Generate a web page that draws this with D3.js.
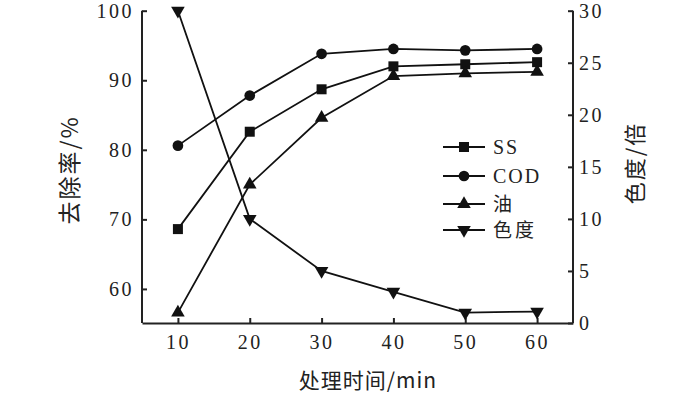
<!DOCTYPE html>
<meta charset="utf-8">
<style>
body { margin: 0; background: #fff; }
text { fill: #222; }
.axis path, .axis line { stroke: #222; stroke-width: 2; }
</style>
<body>
<script src="https://d3js.org/d3.v7.min.js"></script>
<script>

// data
var times = [10, 20, 30, 40, 50, 60];
var ssRate = [68.6, 82.6, 88.7, 92.0, 92.3, 92.6];
var codRate = [80.6, 87.8, 93.8, 94.5, 94.3, 94.5];
var oilRate = [56.6, 75.0, 84.6, 90.6, 91.0, 91.2];
var colorTimes = [30, 10, 5, 3, 1, 1.1];
var xTicks = [10, 20, 30, 40, 50, 60];
var leftTicks = [60, 70, 80, 90, 100];
var rightTicks = [0, 5, 10, 15, 20, 25, 30];
var legendNames = ["SS", "COD", "油", "色度"];

var svg = d3.select("body").append("svg")
    .attr("width", 700)
    .attr("height", 395);

// plot box (note: "top" is taken by window.top)
var pLeft = 142, pRight = 573, pTop = 10.7, pBottom = 323;

var x = d3.scaleLinear().domain([5, 65]).range([pLeft, pRight]);
var yL = d3.scaleLinear().domain([55.1, 100]).range([pBottom, pTop]);
var yR = d3.scaleLinear().domain([0, 30]).range([pBottom, pTop]);

// axes
var gx = svg.append("g").attr("class", "axis")
    .attr("transform", "translate(0," + pBottom + ")")
    .call(d3.axisTop(x).tickValues(xTicks).tickSize(5).tickSizeOuter(0).tickFormat(d3.format("d")));
gx.selectAll("text").attr("y", 12).attr("dy", "0.71em");

var gl = svg.append("g").attr("class", "axis")
    .attr("transform", "translate(" + pLeft + ",0)")
    .call(d3.axisRight(yL).tickValues(leftTicks).tickSize(5).tickSizeOuter(0));
gl.selectAll("text").attr("x", -8).attr("text-anchor", "end");
gl.select(".domain").attr("d", "M0," + pTop + "V" + pBottom);

var gr = svg.append("g").attr("class", "axis")
    .attr("transform", "translate(" + pRight + ",0)")
    .call(d3.axisLeft(yR).tickValues(rightTicks).tickSize(5).tickSizeOuter(0));
gr.selectAll("text").attr("x", 6).attr("text-anchor", "start");
gr.select(".domain").attr("d", "M0," + pTop + "V" + pBottom);

svg.selectAll(".axis").attr("font-family", null).attr("font-size", null);
svg.selectAll(".axis text").style("font-family", "'Liberation Serif', serif")
   .style("font-size", "20px").style("letter-spacing", "2.5px").attr("fill", "#222");
svg.selectAll(".axis .domain").attr("fill", "none");

// axis titles
svg.append("text").attr("x", 368).attr("y", 388)
   .attr("text-anchor", "middle")
   .style("font-family", "'Noto Sans CJK SC', sans-serif").style("font-size", "21px")
   .style("letter-spacing", "1px")
   .text("处理时间/min");

svg.append("text").attr("transform", "translate(78,170) rotate(-90)")
   .attr("text-anchor", "middle")
   .style("font-family", "'Noto Sans CJK SC', sans-serif").style("font-size", "23px")
   .style("letter-spacing", "2px")
   .text("去除率/%");

svg.append("text").attr("transform", "translate(643,163) rotate(-90)")
   .attr("text-anchor", "middle")
   .style("font-family", "'Noto Sans CJK SC', sans-serif").style("font-size", "22px")
   .style("letter-spacing", "2px")
   .text("色度/倍");

// series
var series = [
  { name: "SS", vals: ssRate, y: yL, sym: d3.symbolSquare, size: 100, rot: 0 },
  { name: "COD", vals: codRate, y: yL, sym: d3.symbolCircle, size: 90, rot: 0 },
  { name: "油", vals: oilRate, y: yL, sym: d3.symbolTriangle, size: 80, rot: 0 },
  { name: "色度", vals: colorTimes, y: yR, sym: d3.symbolTriangle, size: 80, rot: 180 }
];

series.forEach(function(s) {
  var line = d3.line()
      .x(function(d, i) { return x(times[i]); })
      .y(function(d) { return s.y(d); });
  svg.append("path").datum(s.vals)
     .attr("d", line)
     .attr("fill", "none")
     .attr("stroke", "#111")
     .attr("stroke-width", 1.8);
  svg.selectAll(null).data(s.vals).enter().append("path")
     .attr("d", d3.symbol().type(s.sym).size(s.size))
     .attr("transform", function(d, i) {
        return "translate(" + x(times[i]) + "," + s.y(d) + ") rotate(" + s.rot + ")";
     })
     .attr("fill", "#111");
});

// legend
var lg = svg.append("g").attr("transform", "translate(443,147)");
legendNames.forEach(function(n, i) {
  var s = series[i];
  var ly = [0, 29, 57, 83][i];
  lg.append("line").attr("x1", 0).attr("x2", 42).attr("y1", ly).attr("y2", ly)
    .attr("stroke", "#111").attr("stroke-width", 1.8);
  lg.append("path").attr("d", d3.symbol().type(s.sym).size(s.size))
    .attr("transform", "translate(21," + ly + ") rotate(" + s.rot + ")")
    .attr("fill", "#111");
  lg.append("text").attr("x", 50).attr("y", ly).attr("dy", "0.35em")
    .style("font-family", i < 2 ? "'Liberation Serif', serif" : "'Noto Sans CJK SC', sans-serif")
    .style("font-size", i < 2 ? "20px" : "19px")
    .style("letter-spacing", i < 2 ? "2px" : "3px")
    .text(n);
});

</script>
</body>
